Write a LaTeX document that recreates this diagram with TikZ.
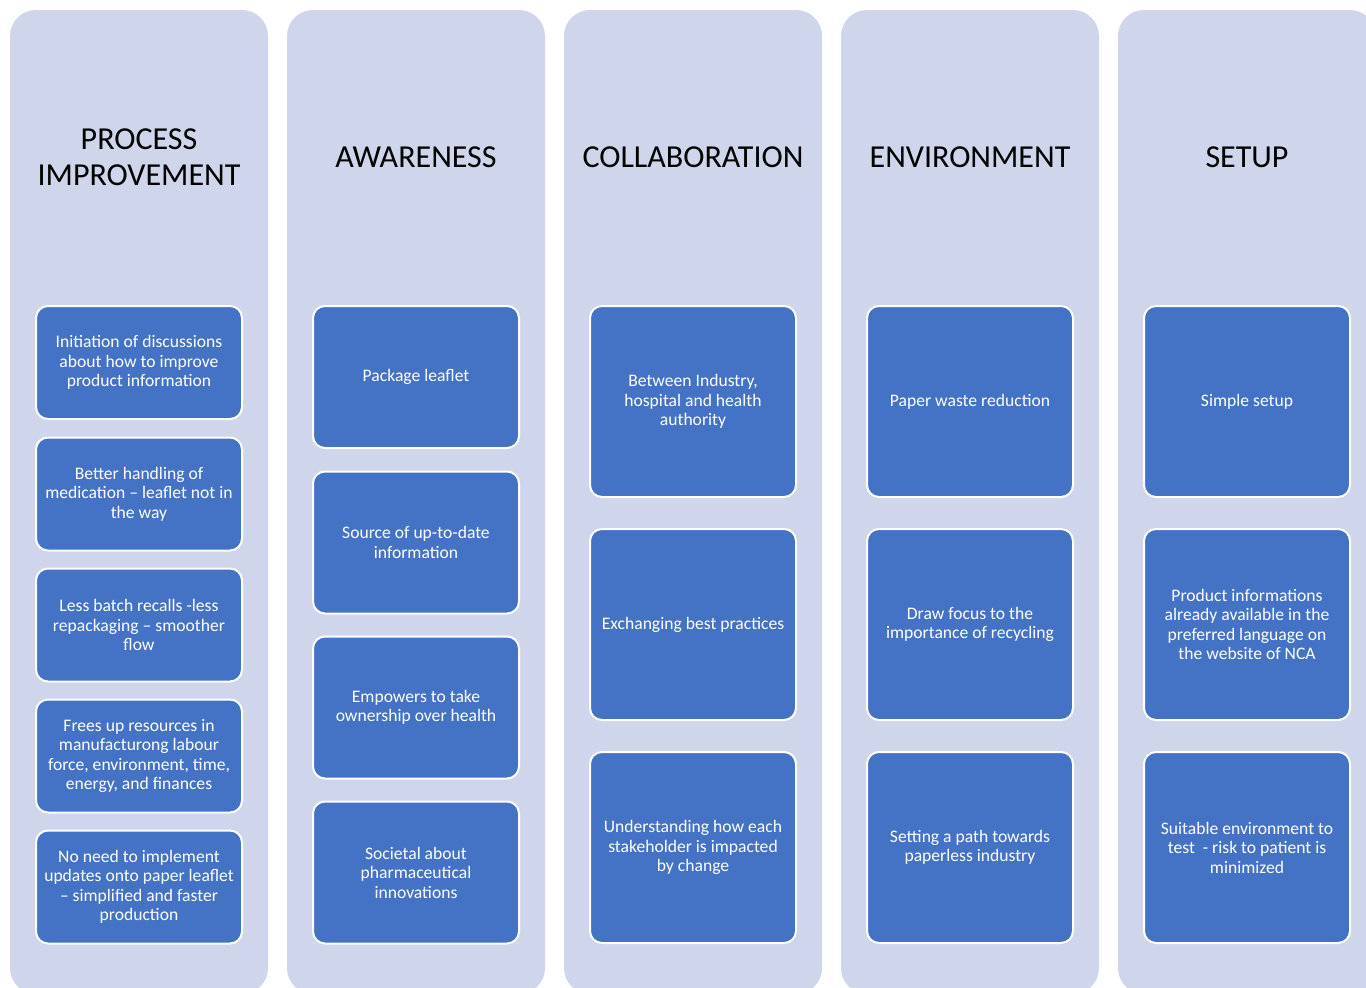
\documentclass[tikz,border=0pt]{standalone}
\usepackage{fontspec}
\setmainfont{Carlito}
\definecolor{lanefill}{HTML}{CFD5EA}
\definecolor{cardfill}{HTML}{4472C4}
\tikzset{
  lane/.style={fill=lanefill, rounded corners=26pt},
  lanetitle/.style={align=center, text=black, font=\fontsize{32}{36}\selectfont},
  card/.style={draw=white, line width=2pt, fill=cardfill, rounded corners=12pt,
    text=white, align=center, inner sep=0pt, minimum width=206pt,
    font=\fontsize{17.6}{19.5}\selectfont},
}

\begin{document}
\begin{tikzpicture}[x=1pt, y=-1pt]
            \useasboundingbox (0, 0) rectangle (1366, 988);
            %\draw[lightgray, step=50] (0, 0) grid (1366, 988);
            \foreach \lx in {10, 287, 564, 841, 1118}
                \fill[lane] (\lx, 10) rectangle (\lx + 258, 994);

            \node[lanetitle] (tPI) at (139, 157) {PROCESS\\IMPROVEMENT};
            \node[lanetitle] (tAW) at (416, 157) {AWARENESS};
            \node[lanetitle] (tCO) at (693, 157) {COLLABORATION};
            \node[lanetitle] (tEN) at (970, 157) {ENVIRONMENT};
            \node[lanetitle] (tSE) at (1247, 157) {SETUP};

            % process improvement
            \node[card, minimum height=113pt] (pi1) at (139, 362.5) {Initiation of discussions\\about how to improve\\product information};
            \node[card, minimum height=113pt] (pi2) at (139, 494) {Better handling of\\medication – leaflet not in\\the way};
            \node[card, minimum height=113pt] (pi3) at (139, 625) {Less batch recalls -less\\repackaging – smoother\\flow};
            \node[card, minimum height=113pt] (pi4) at (139, 756) {Frees up resources in\\manufacturong labour\\force, environment, time,\\energy, and finances};
            \node[card, minimum height=113pt] (pi5) at (139, 887) {No need to implement\\updates onto paper leaflet\\– simplified and faster\\production};

            % awareness
            \node[card, minimum height=142pt] (aw1) at (416, 377) {Package leaflet};
            \node[card, minimum height=142pt] (aw2) at (416, 542.5) {Source of up-to-date\\information};
            \node[card, minimum height=142pt] (aw3) at (416, 707.5) {Empowers to take\\ownership over health};
            \node[card, minimum height=142pt] (aw4) at (416, 872.5) {Societal about\\pharmaceutical\\innovations};

            % collaboration
            \node[card, minimum height=191pt] (co1) at (693, 401.5) {Between Industry,\\hospital and health\\authority};
            \node[card, minimum height=191pt] (co2) at (693, 624.5) {Exchanging best practices};
            \node[card, minimum height=191pt] (co3) at (693, 847.5) {Understanding how each\\stakeholder is impacted\\by change};

            % environment
            \node[card, minimum height=191pt] (en1) at (970, 401.5) {Paper waste reduction};
            \node[card, minimum height=191pt] (en2) at (970, 624.5) {Draw focus to the\\importance of recycling};
            \node[card, minimum height=191pt] (en3) at (970, 847.5) {Setting a path towards\\paperless industry};

            % setup
            \node[card, minimum height=191pt] (se1) at (1247, 401.5) {Simple setup};
            \node[card, minimum height=191pt] (se2) at (1247, 624.5) {Product informations\\already available in the\\preferred language on\\the website of NCA};
            \node[card, minimum height=191pt] (se3) at (1247, 847.5) {Suitable environment to\\test\ \ - risk to patient is\\minimized};
        \end{tikzpicture}
\end{document}
